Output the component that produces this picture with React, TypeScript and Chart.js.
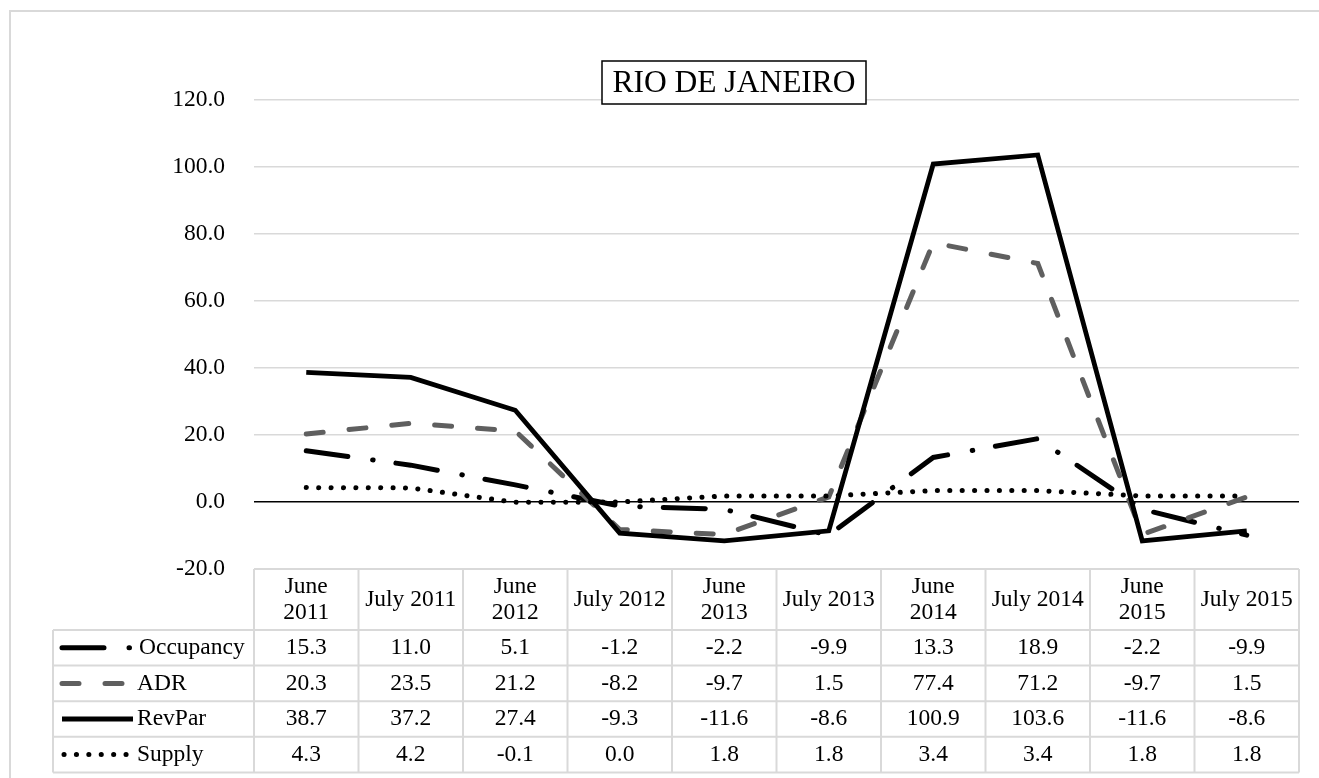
import { useEffect, useRef } from "react";
import { Chart, registerables } from "chart.js";

Chart.register(...registerables);

const TITLE = "RIO DE JANEIRO";
const CATEGORIES: string[][] = [
  ["June", "2011"],
  ["July 2011"],
  ["June", "2012"],
  ["July 2012"],
  ["June", "2013"],
  ["July 2013"],
  ["June", "2014"],
  ["July 2014"],
  ["June", "2015"],
  ["July 2015"],
];
const OCCUPANCY = [15.3, 11.0, 5.1, -1.2, -2.2, -9.9, 13.3, 18.9, -2.2, -9.9];
const ADR = [20.3, 23.5, 21.2, -8.2, -9.7, 1.5, 77.4, 71.2, -9.7, 1.5];
const REVPAR = [38.7, 37.2, 27.4, -9.3, -11.6, -8.6, 100.9, 103.6, -11.6, -8.6];
const SUPPLY = [4.3, 4.2, -0.1, 0.0, 1.8, 1.8, 3.4, 3.4, 1.8, 1.8];
const SERIES_NAMES = ["Occupancy", "ADR", "RevPar", "Supply"];
const Y_MIN = -20;
const Y_MAX = 120;
const Y_STEP = 20;

const FONT = '"Liberation Serif", "Times New Roman", serif';
const FONT_SIZE = 23.5;
const GRID = "#d9d9d9";

const STYLES = [
  { color: "#000000", dash: [42, 25, 0.5, 23], width: 5, order: 4 },
  { color: "#5f5f5f", dash: [17, 26], width: 5, order: 3 },
  { color: "#000000", dash: [] as number[], width: 4.8, order: 2 },
  { color: "#000000", dash: [0.1, 12.3], width: 5, order: 1 },
];

const SERIES_DATA = [OCCUPANCY, ADR, REVPAR, SUPPLY];

const fmt = (v: number) => v.toFixed(1);

const decorPlugin = {
  id: "decor",
  beforeDraw(chart: any) {
    const ctx = chart.ctx;
    ctx.save();
    ctx.fillStyle = "#ffffff";
    ctx.fillRect(0, 0, chart.width, chart.height);
    ctx.strokeStyle = GRID;
    ctx.lineWidth = 2;
    ctx.strokeRect(10, 11, 2000, 2000);
    ctx.restore();
  },
  afterDraw(chart: any) {
    const ctx = chart.ctx;
    const area = chart.chartArea;
    const xs = chart.scales.x;
    const n = CATEGORIES.length;
    const colW = (area.right - area.left) / n;
    const top = area.bottom;
    const headerBottom = top + 61;
    const rowH = 35.6;
    const legendLeft = 53;
    const tableBottom = headerBottom + rowH * SERIES_NAMES.length;

    ctx.save();
    // title box
    const tx = 602, ty = 61, tw = 264, th = 43;
    ctx.fillStyle = "#ffffff";
    ctx.fillRect(tx, ty, tw, th);
    ctx.strokeStyle = "#000000";
    ctx.lineWidth = 1.5;
    ctx.strokeRect(tx, ty, tw, th);
    ctx.fillStyle = "#000000";
    ctx.font = `31.5px ${FONT}`;
    ctx.textAlign = "center";
    ctx.textBaseline = "middle";
    ctx.fillText(TITLE, tx + tw / 2, ty + th / 2 + 1);

    // table grid
    ctx.strokeStyle = GRID;
    ctx.lineWidth = 2;
    ctx.beginPath();
    ctx.moveTo(area.left, top);
    ctx.lineTo(area.right, top);
    for (let i = 0; i <= n; i++) {
      const x = area.left + colW * i;
      ctx.moveTo(x, top);
      ctx.lineTo(x, tableBottom);
    }
    for (let r = 0; r <= SERIES_NAMES.length; r++) {
      const y = headerBottom + rowH * r;
      ctx.moveTo(legendLeft, y);
      ctx.lineTo(area.right, y);
    }
    ctx.moveTo(legendLeft, headerBottom);
    ctx.lineTo(legendLeft, tableBottom);
    ctx.stroke();

    // header text
    ctx.fillStyle = "#000000";
    ctx.font = `${FONT_SIZE}px ${FONT}`;
    ctx.textAlign = "center";
    ctx.textBaseline = "middle";
    const hc = (top + headerBottom) / 2;
    CATEGORIES.forEach((lab, i) => {
      const cx = xs.getPixelForValue(i);
      if (lab.length === 1) {
        ctx.fillText(lab[0], cx, hc);
      } else {
        ctx.fillText(lab[0], cx, hc - 13);
        ctx.fillText(lab[1], cx, hc + 13);
      }
    });

    // rows
    SERIES_NAMES.forEach((name, r) => {
      const cy = headerBottom + rowH * r + rowH / 2;
      const st = STYLES[r];
      SERIES_DATA[r].forEach((v, i) => {
        ctx.fillStyle = "#000000";
        ctx.textAlign = "center";
        ctx.fillText(fmt(v), xs.getPixelForValue(i), cy);
      });
      // legend key
      ctx.save();
      ctx.strokeStyle = st.color;
      ctx.lineWidth = st.width;
      ctx.lineCap = st.dash.length ? "round" : "butt";
      ctx.setLineDash(st.dash);
      ctx.beginPath();
      const k0 = r === 3 ? 64 : 62;
      const k1 = r === 0 ? 131 : r === 3 ? 128 : 133;
      ctx.moveTo(k0, cy);
      ctx.lineTo(k1, cy);
      ctx.stroke();
      ctx.restore();
      ctx.fillStyle = "#000000";
      ctx.textAlign = "left";
      ctx.fillText(name, r === 0 ? 139 : 137, cy);
    });
    ctx.restore();
  },
};

export default function App() {
  const ref = useRef<HTMLCanvasElement>(null);
  useEffect(() => {
    if (!ref.current) return;
    const chart = new Chart(ref.current, {
      type: "line",
      data: {
        labels: CATEGORIES.map((c) => c.join(" ")),
        datasets: SERIES_NAMES.map((name, i) => ({
          label: name,
          data: SERIES_DATA[i],
          borderColor: STYLES[i].color,
          backgroundColor: STYLES[i].color,
          borderWidth: STYLES[i].width,
          borderDash: STYLES[i].dash,
          borderCapStyle: STYLES[i].dash.length ? "round" : "butt",
          borderJoinStyle: "miter",
          pointRadius: 0,
          tension: 0,
          fill: false,
          order: STYLES[i].order,
        })) as any,
      },
      options: {
        animation: false,
        responsive: true,
        maintainAspectRatio: false,
        layout: { padding: { left: 0, top: 100, right: 20, bottom: 209 } },
        plugins: {
          legend: { display: false },
          title: { display: false },
          tooltip: { enabled: false },
        },
        scales: {
          x: {
            type: "category",
            display: false,
            offset: true,
            grid: { display: false },
          },
          y: {
            min: Y_MIN,
            max: Y_MAX,
            afterFit: (scale: any) => {
              scale.width = 254;
            },
            ticks: {
              stepSize: Y_STEP,
              padding: 29,
              color: "#000000",
              font: { family: FONT, size: FONT_SIZE },
              callback: (v: any) => Number(v).toFixed(1),
            },
            grid: {
              drawTicks: false,
              color: (c: any) => (c.tick && c.tick.value === 0 ? "#000000" : GRID),
              lineWidth: 1.5,
            },
            border: { display: false },
          },
        },
      },
      plugins: [decorPlugin],
    });
    return () => chart.destroy();
  }, []);
  return (
    <div style={{ position: "fixed", left: 0, top: 0, width: 1319, height: 778, background: "#fff" }}>
      <canvas ref={ref} />
    </div>
  );
}
